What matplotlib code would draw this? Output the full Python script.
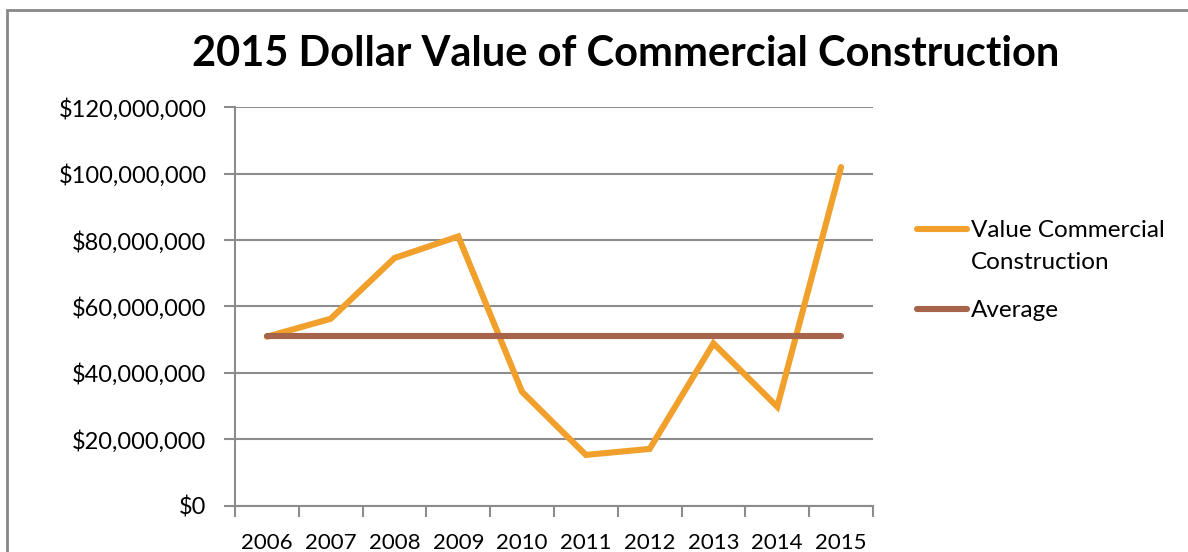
import numpy as np
import matplotlib
matplotlib.use("Agg")
from matplotlib import pyplot as plt
from matplotlib.ticker import FuncFormatter
from matplotlib.patches import Rectangle

plt.rcParams['font.family'] = ['Lato', 'DejaVu Sans']

years = ["2006", "2007", "2008", "2009", "2010", "2011", "2012", "2013", "2014", "2015"]
value_commercial = [50.9e6, 56.3e6, 74.6e6, 81.1e6, 34.3e6, 15.3e6, 17.1e6, 48.9e6, 29.8e6, 102.0e6]
average = [51.0e6, 51.0e6, 51.0e6, 51.0e6, 51.0e6, 51.0e6, 51.0e6, 51.0e6, 51.0e6, 51.0e6]
y_ticks = [0, 20e6, 40e6, 60e6, 80e6, 100e6, 120e6]

ORANGE = "#F0A02B"
BROWN = "#A8634B"
GRID = "#8C8C8C"

fig = plt.figure(figsize=(11.88, 5.52), dpi=100)
ax = fig.add_axes([0.1978, 0.0839, 0.537, 0.7217])

x = np.arange(len(years))
ax.plot(x, value_commercial, color=ORANGE, lw=4.4, solid_joinstyle='miter',
        solid_capstyle='round', label="Value Commercial", zorder=3)
ax.plot(x, average, color=BROWN, lw=4.4, solid_capstyle='round', label="Average", zorder=3)

ax.set_xlim(-0.5, len(years) - 0.5)
ax.set_ylim(0, 120e6)
ax.set_yticks(y_ticks)
ax.yaxis.set_major_formatter(FuncFormatter(lambda v, p: "${:,.0f}".format(v)))
ax.set_xticks(x)
ax.set_xticklabels(years)
ax.set_xticks(np.arange(-0.5, len(years)), minor=True)
ax.tick_params(axis='x', which='major', length=0, pad=20, labelsize=16)
ax.tick_params(axis='x', which='minor', length=8, width=1.5, color=GRID, direction='out')
ax.tick_params(axis='y', length=8, width=1.5, color=GRID, pad=12.5, labelsize=17)
ax.grid(axis='y', color=GRID, lw=1.5)
ax.set_axisbelow(True)
for s in ['top', 'right']:
    ax.spines[s].set_visible(False)
for s in ['left', 'bottom']:
    ax.spines[s].set_color(GRID)
    ax.spines[s].set_linewidth(1.5)

fig.text(0.527, 0.903, "2015 Dollar Value of Commercial Construction",
         ha='center', va='center', fontsize=30, fontweight='bold')

leg = ax.legend(loc='upper left', bbox_to_anchor=(1.05, 0.747), frameon=False,
                fontsize=17.5, handlelength=2.05, handletextpad=0.17, labelspacing=2.42,
                borderpad=0)

# second line of the first legend label, as in the original wrapped label
fig.canvas.draw()
t0 = leg.get_texts()[0]
bb = t0.get_window_extent()
fig.text(bb.x0 / fig.bbox.width, (bb.y0 - 32) / fig.bbox.height, "Construction",
         ha='left', va='bottom', fontsize=17.5)

fig.add_artist(Rectangle((0.006, -0.5), 1.5, 1.482, transform=fig.transFigure,
                         fill=False, edgecolor="#888888", lw=2))

fig.savefig("out.png", dpi=100)
